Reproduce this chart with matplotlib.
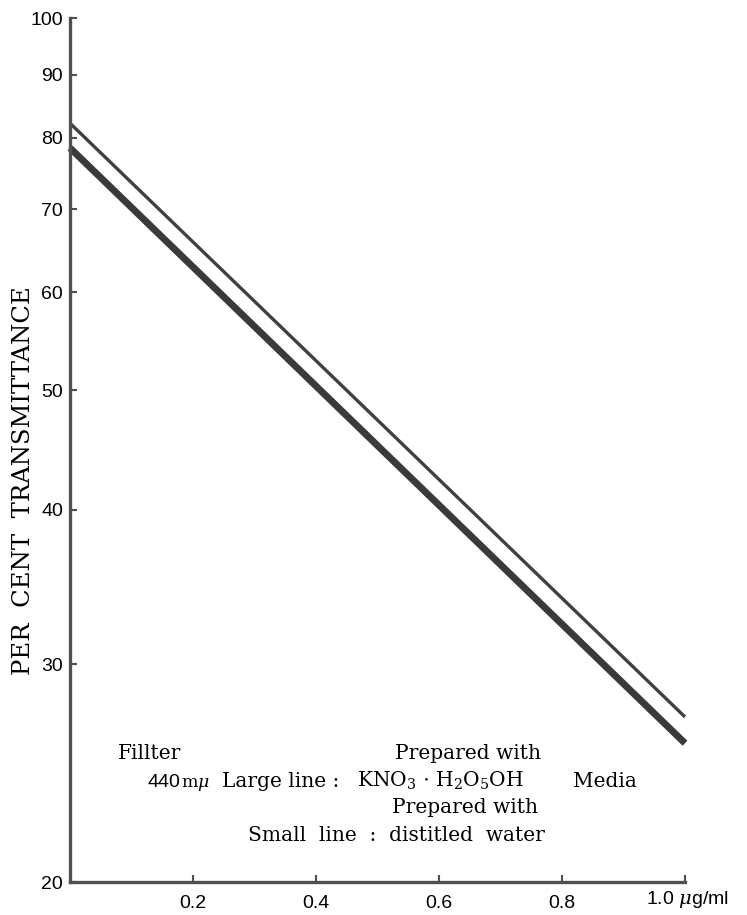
import matplotlib
matplotlib.use('Agg')
import matplotlib.pyplot as plt
from matplotlib.ticker import FixedLocator, NullLocator, FixedFormatter

plt.rcParams['mathtext.fontset'] = 'dejavuserif'

# concentration (ug/ml) and per cent transmittance
conc = [0.0, 1.0]
large_line = [78.5, 25.9]   # KNO3 . H2O5OH media
small_line = [82.2, 27.2]   # distilled water
yticks = [20, 30, 40, 50, 60, 70, 80, 90, 100]
xticks = [0.2, 0.4, 0.6, 0.8, 1.0]
xlabels = ['0.2', '0.4', '0.6', '0.8', '']

W, H = 747, 915
ink = '#3a3a3a'


def fx(px):
    return px / W


def fy(py):
    return 1 - py / H


fig = plt.figure(figsize=(W / 100, H / 100), dpi=100)
ax = fig.add_axes([fx(70), fy(882), fx(685) - fx(70), fy(18) - fy(882)])

ax.plot(conc, large_line, color=ink, lw=5.0, solid_capstyle='butt',
        clip_on=False)
ax.plot(conc, small_line, color='#404040', lw=2.4, solid_capstyle='butt',
        clip_on=False)

ax.set_yscale('log')
ax.set_ylim(20, 100)
ax.set_xlim(0, 1.0)
ax.yaxis.set_major_locator(FixedLocator(yticks))
ax.yaxis.set_major_formatter(FixedFormatter([str(v) for v in yticks]))
ax.yaxis.set_minor_locator(NullLocator())
ax.xaxis.set_major_locator(FixedLocator(xticks))
ax.xaxis.set_major_formatter(FixedFormatter(xlabels))

for s in ['top', 'right']:
    ax.spines[s].set_visible(False)
for s in ['left', 'bottom']:
    ax.spines[s].set_linewidth(2.4)
    ax.spines[s].set_color('#505050')

ax.tick_params(axis='both', direction='in', length=5, width=1.5,
               color='#505050', labelsize=14)
ax.tick_params(axis='y', pad=5)
ax.tick_params(axis='x', pad=9)
for lab in ax.get_xticklabels() + ax.get_yticklabels():
    lab.set_family('Liberation Sans')

# last x label carries the unit and sits off-centre
fig.text(fx(646), fy(900), '1.0 $\\mu$g/ml', family='Liberation Sans',
         fontsize=14, ha='left', va='center')

fig.text(fx(24), fy(481), 'PER  CENT  TRANSMITTANCE', rotation=90,
         family='DejaVu Serif', fontsize=17.5, ha='center', va='center')

note = dict(family='DejaVu Serif', fontsize=14.5, va='baseline', ha='left')
fig.text(fx(118), fy(759), 'Fillter', **note)
fig.text(fx(395), fy(759), 'Prepared with', **note)
fig.text(fx(147), fy(787), '440', family='Liberation Sans', fontsize=14,
         va='baseline', ha='left')
fig.text(fx(181), fy(787), 'm$\\mu$', family='DejaVu Serif', fontsize=12.5,
         va='baseline', ha='left')
fig.text(fx(222), fy(787), 'Large line :', **note)
fig.text(fx(357), fy(787), 'KNO$_3$ $\\cdot$ H$_2$O$_5$OH', **note)
fig.text(fx(573), fy(787), 'Media', **note)
fig.text(fx(392), fy(813), 'Prepared with', **note)
fig.text(fx(248), fy(841), 'Small  line  :  distitled  water', **note)

fig.savefig('out.png', dpi=100, facecolor='white')
